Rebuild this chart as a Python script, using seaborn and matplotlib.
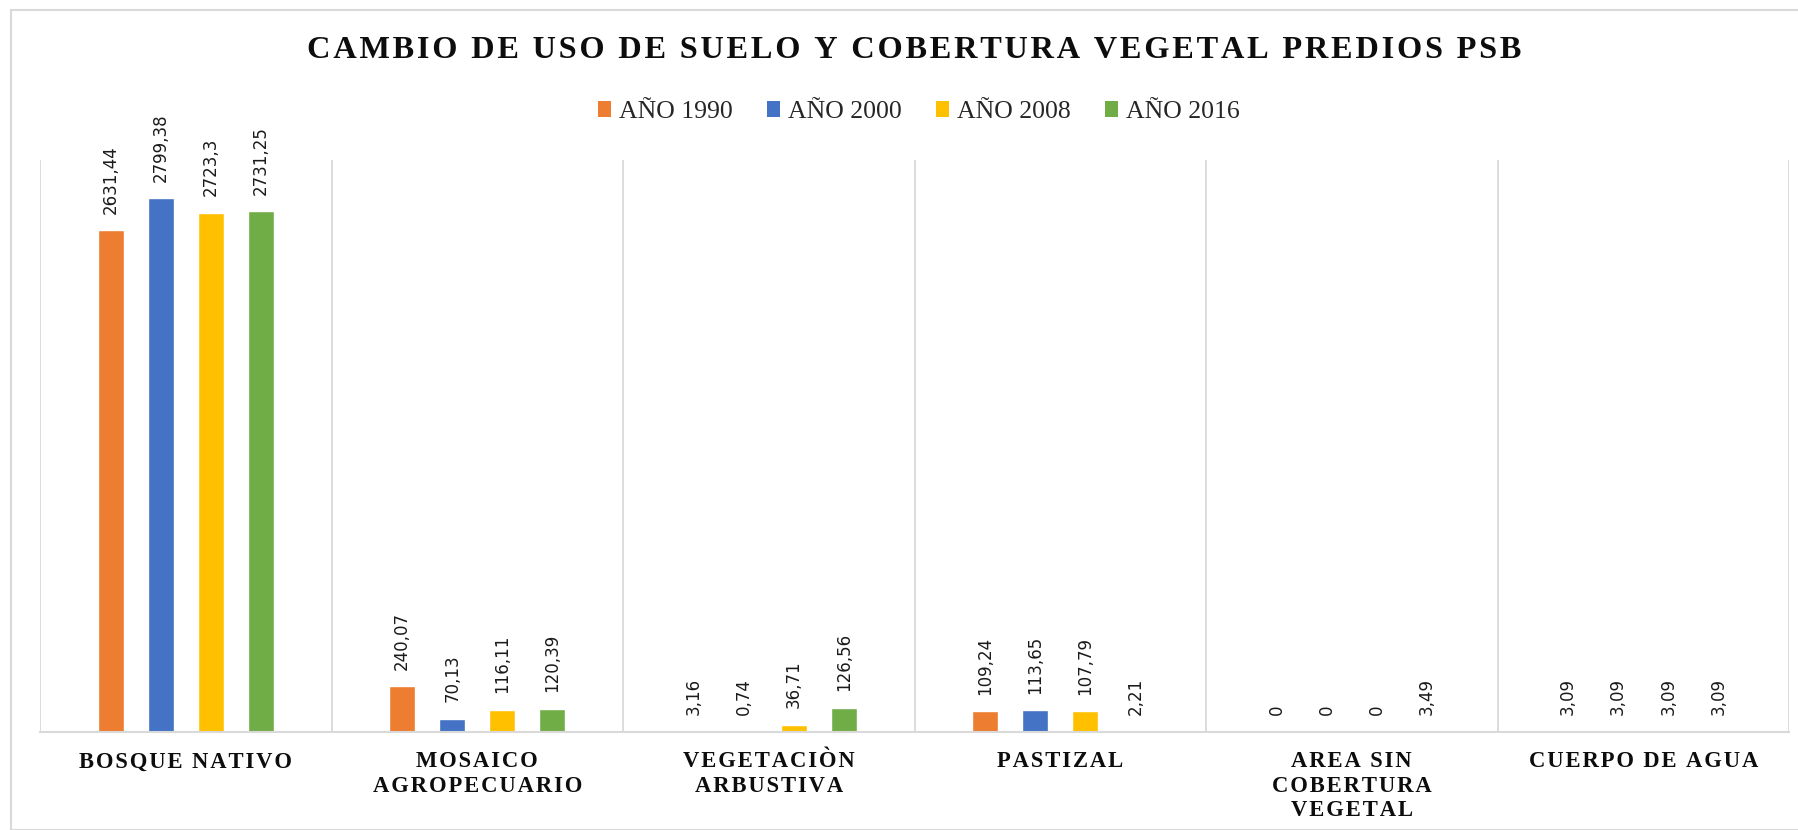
import matplotlib
matplotlib.use("Agg")
import matplotlib.pyplot as plt
from matplotlib.patches import Patch, Rectangle
import seaborn as sns
import pandas as pd

categories = ["BOSQUE NATIVO", "MOSAICO\nAGROPECUARIO", "VEGETACIÒN\nARBUSTIVA",
              "PASTIZAL", "AREA SIN\nCOBERTURA\nVEGETAL", "CUERPO DE AGUA"]
years = ["AÑO 1990", "AÑO 2000", "AÑO 2008", "AÑO 2016"]
v1990 = [2631.44, 240.07, 3.16, 109.24, 0, 3.09]
v2000 = [2799.38, 70.13, 0.74, 113.65, 0, 3.09]
v2008 = [2723.3, 116.11, 36.71, 107.79, 0, 3.09]
v2016 = [2731.25, 120.39, 126.56, 2.21, 3.49, 3.09]
colors = ["#ED7D31", "#4472C4", "#FFC000", "#70AD47"]
title = "CAMBIO DE USO DE SUELO Y COBERTURA VEGETAL PREDIOS PSB"

rows = []
for yr, vals in zip(years, [v1990, v2000, v2008, v2016]):
    for c, v in zip(categories, vals):
        rows.append({"cat": c, "year": yr, "value": v})
df = pd.DataFrame(rows)

HAIR = "\u200a"


def spaced(s):
    return "\n".join(HAIR.join(line) for line in s.split("\n"))


sns.set_theme(style="white")
plt.rcParams["font.family"] = ["DejaVu Sans"]
serif = ["Liberation Serif", "DejaVu Serif"]

fig = plt.figure(figsize=(17.98, 8.30), dpi=100)
ax = fig.add_axes([40/1798, 98/830, 1749/1798, 572/830])

sns.barplot(data=df, x="cat", y="value", hue="year", order=categories,
            hue_order=years, palette=colors, width=0.688, gap=0.48,
            saturation=1, ax=ax, legend=False, errorbar=None)

for cont in ax.containers:
    labels = [f"{v:g}".replace(".", ",") for v in cont.datavalues]
    ax.bar_label(cont, labels=labels, rotation=90, padding=12,
                 fontsize=12, color="#1a1a1a")

ax.set_ylim(0, 3000)
ax.set_xlim(-0.5, 5.5)
ax.set_yticks([])
ax.set_xlabel("")
ax.set_ylabel("")
ax.set_xticks([i - 0.5 for i in range(7)], minor=True)
ax.grid(True, which="minor", axis="x", color="#d9d9d9", linewidth=1.3)
ax.grid(False, which="major")
ax.tick_params(axis="x", which="both", length=0)
ax.tick_params(axis="x", which="major", pad=14)
for s in ["top", "left", "right"]:
    ax.spines[s].set_visible(False)
ax.spines["bottom"].set_color("#d9d9d9")
ax.spines["bottom"].set_linewidth(1.5)
ax.set_xticks(range(len(categories)))
ax.set_xticklabels([spaced(c) for c in categories], fontfamily=serif,
                   fontweight="bold", fontsize=16.3, linespacing=1.2,
                   va="top", color="#0d0d0d")
ax.set_facecolor("white")

fig.text(914/1798, 1 - 51/830, spaced(title),
         ha="center", va="center", fontfamily=serif,
         fontweight="bold", fontsize=23.3, color="#0d0d0d")

handles = [Patch(facecolor=c, edgecolor="none") for c in colors]
fig.legend(handles, years, loc="center", bbox_to_anchor=(919/1798, 1 - 112/830),
           ncol=4, frameon=False, handlelength=0.5, handleheight=0.55,
           handletextpad=0.3, columnspacing=1.35,
           prop={"family": serif, "size": 18.5})

fig.patches.append(Rectangle((11/1798, 0), 1.0, 1 - 10/830, transform=fig.transFigure,
                             fill=False, edgecolor="#d9d9d9", linewidth=1.5))

fig.savefig("out.png", dpi=100, facecolor="white")
